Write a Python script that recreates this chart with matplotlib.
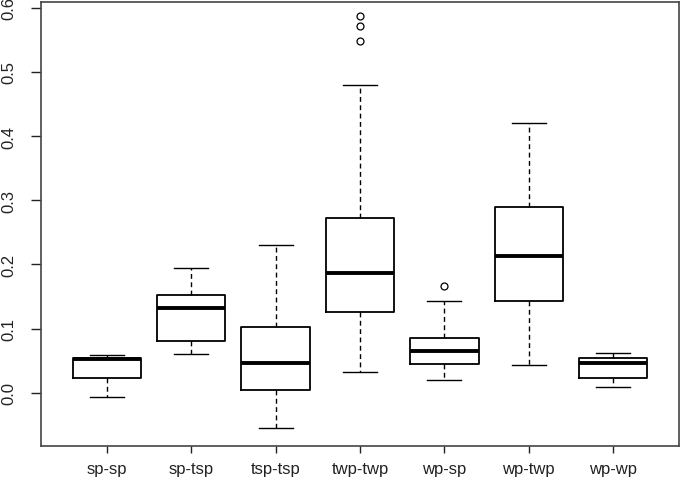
import matplotlib
matplotlib.use("Agg")
import matplotlib.pyplot as plt

plt.rcParams['font.family'] = ['Liberation Sans', 'DejaVu Sans']

groups = ["sp-sp", "sp-tsp", "tsp-tsp", "twp-twp", "wp-sp", "wp-twp", "wp-wp"]
whislo = [-0.006, 0.061, -0.055, 0.032, 0.020, 0.044, 0.010]
q1 = [0.024, 0.081, 0.005, 0.126, 0.045, 0.143, 0.023]
med = [0.053, 0.133, 0.047, 0.186, 0.065, 0.213, 0.047]
q3 = [0.055, 0.153, 0.102, 0.272, 0.086, 0.290, 0.055]
whishi = [0.059, 0.194, 0.231, 0.479, 0.143, 0.421, 0.062]
outliers = [[], [], [], [0.587, 0.572, 0.548], [0.167], [], []]

stats = []
for i, g in enumerate(groups):
    stats.append(dict(label=g, whislo=whislo[i], q1=q1[i], med=med[i],
                      q3=q3[i], whishi=whishi[i], fliers=outliers[i]))

fig = plt.figure(figsize=(6.8, 4.81), dpi=100)
ax = fig.add_axes([0.0603, 0.0707, 0.9382, 0.9235])

ax.bxp(stats, positions=range(1, 8), widths=0.81, patch_artist=False,
       boxprops=dict(color="black", linewidth=1.3),
       medianprops=dict(color="black", linewidth=2.8, solid_capstyle="butt"),
       whiskerprops=dict(color="black", linewidth=1.0, linestyle=(0, (3.5, 2.5))),
       capprops=dict(color="black", linewidth=1.0),
       capwidths=0.405,
       flierprops=dict(marker="o", markersize=5, markerfacecolor="none",
                       markeredgecolor="black", markeredgewidth=0.9))

ax.set_xlim(0.22, 7.78)
ax.set_ylim(-0.0826, 0.609)
ax.set_yticks([0.0, 0.1, 0.2, 0.3, 0.4, 0.5, 0.6])
ax.set_yticklabels(["0.0", "0.1", "0.2", "0.3", "0.4", "0.5", "0.6"],
                   rotation=90, va="center")
ax.set_xticks(range(1, 8))
ax.set_xticklabels(groups)
ax.tick_params(direction="out", width=1, labelsize=12, colors="#222222")
ax.tick_params(axis="y", length=7.5, pad=10)
ax.tick_params(axis="x", length=5, pad=6)
for s in ax.spines.values():
    s.set_linewidth(1.2)
    s.set_color("#444444")

fig.savefig("out.png", dpi=100)
